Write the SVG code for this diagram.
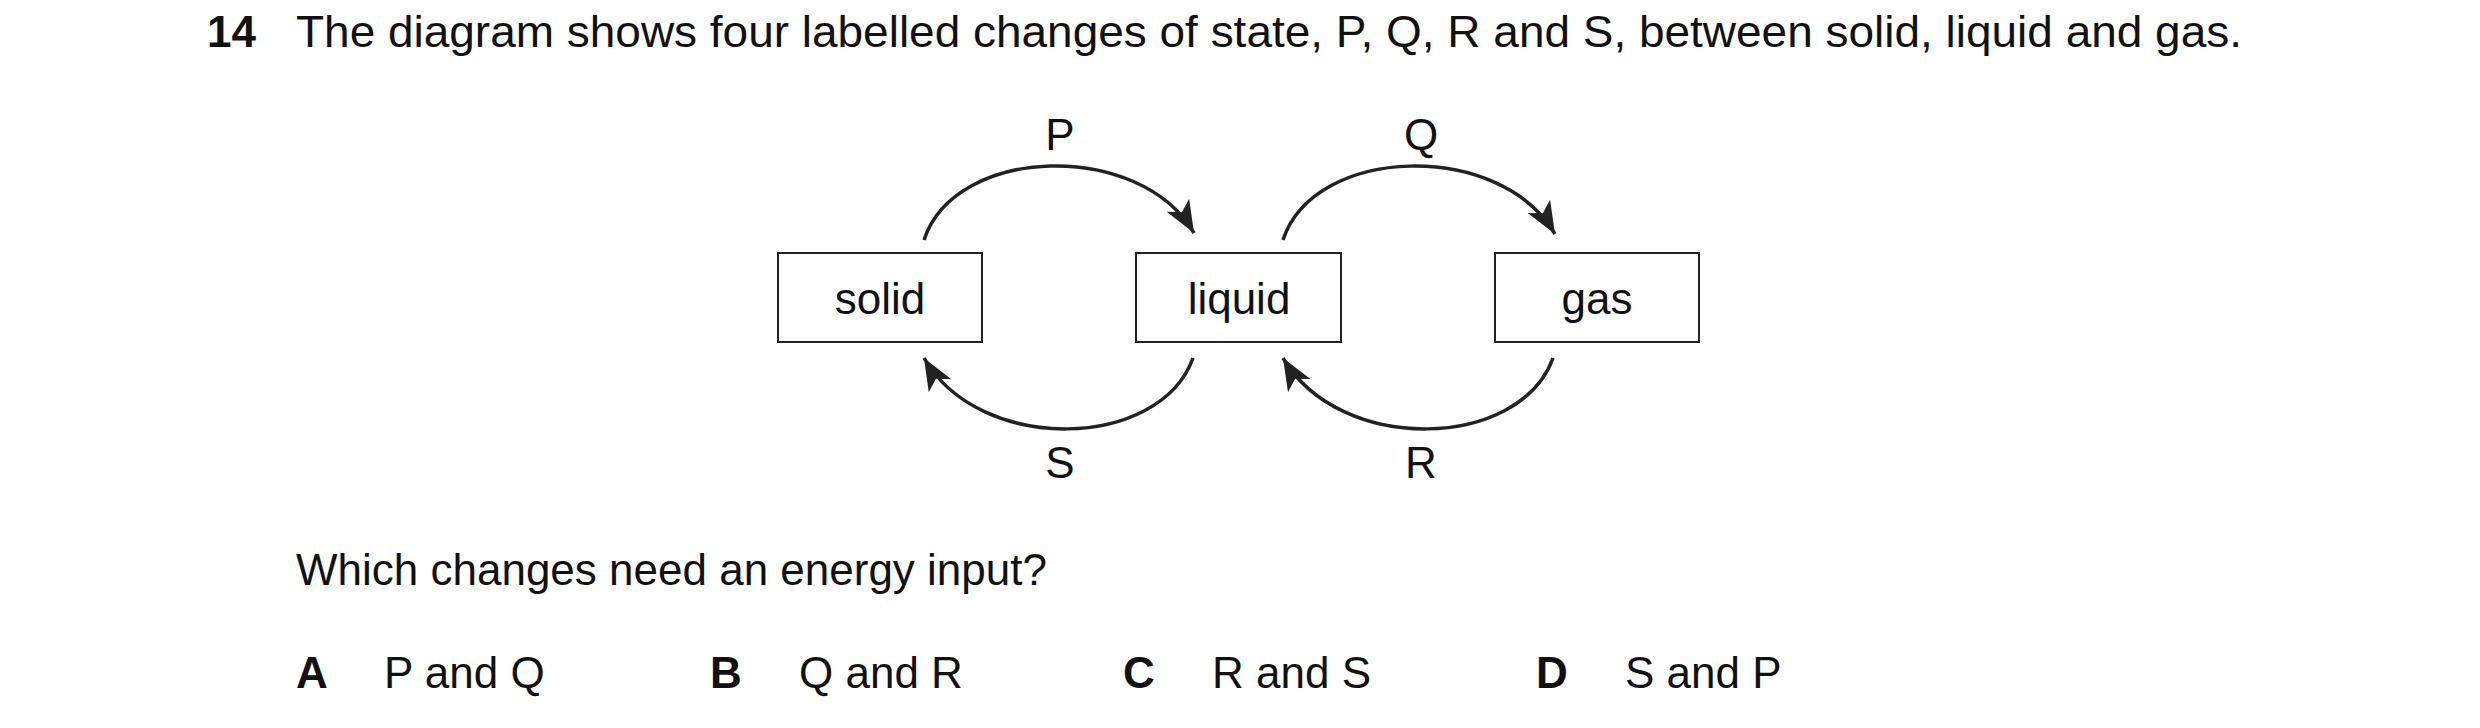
<svg xmlns="http://www.w3.org/2000/svg" width="2480" height="728" viewBox="0 0 2480 728">
<style>
text{font-family:"Liberation Sans",Arial,sans-serif;font-size:44px;fill:#111}
.b{font-weight:bold}
.m{text-anchor:middle}
rect{fill:#fff;stroke:#222;stroke-width:2}
.c{fill:none;stroke:#222;stroke-width:3.5}
</style>
<defs><marker id="ah" viewBox="0 0 10 10" refX="10" refY="5" markerWidth="10" markerHeight="10" markerUnits="userSpaceOnUse" orient="auto" style="overflow:visible"><path d="M-22,-8 L10,5 L-22,18 L-14,5 Z" transform="translate(0,0)" fill="#222"/></marker></defs>
<text class="b" x="207" y="47">14</text>
<text x="296" y="47" textLength="1946" lengthAdjust="spacingAndGlyphs">The diagram shows four labelled changes of state, P, Q, R and S, between solid, liquid and gas.</text>
<g id="solid"><rect x="778" y="253" width="204" height="89"/><text class="m" x="880" y="314">solid</text></g>
<g id="liquid"><rect x="1136" y="253" width="205" height="89"/><text class="m" x="1239" y="314">liquid</text></g>
<g id="gas"><rect x="1495" y="253" width="204" height="89"/><text class="m" x="1597" y="314">gas</text></g>
<g id="connectors">
<path class="c" d="M924,240 C955,145 1140,140 1194,233" marker-end="url(#ah)"/>
<path class="c" d="M1283,240 C1314,145 1500,140 1555,234" marker-end="url(#ah)"/>
<path class="c" d="M1193,358 C1160,450 980,455 924,358" marker-end="url(#ah)"/>
<path class="c" d="M1553,358 C1520,450 1340,455 1283,358" marker-end="url(#ah)"/>
<text class="m" x="1060" y="150">P</text>
<text class="m" x="1421" y="150">Q</text>
<text class="m" x="1060" y="478">S</text>
<text class="m" x="1421" y="478">R</text>
</g>
<text x="296" y="585">Which changes need an energy input?</text>
<text class="b" x="296" y="688">A</text><text x="384" y="688">P and Q</text>
<text class="b" x="710" y="688">B</text><text x="799" y="688">Q and R</text>
<text class="b" x="1123" y="688">C</text><text x="1212" y="688">R and S</text>
<text class="b" x="1536" y="688">D</text><text x="1625" y="688">S and P</text>
</svg>
